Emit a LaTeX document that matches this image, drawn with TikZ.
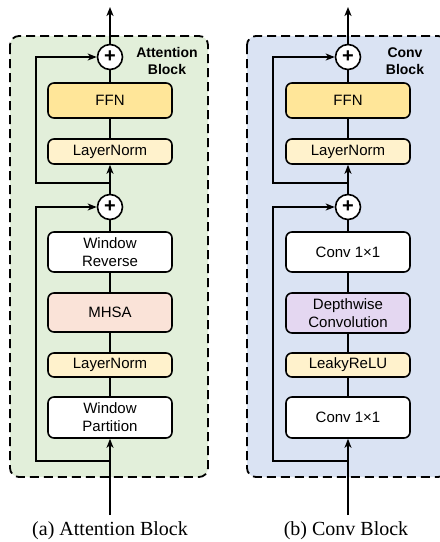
\documentclass[tikz,border=0pt]{standalone}
\usepackage{fontspec}
\setmainfont{Liberation Serif}
\setsansfont{Liberation Sans}
\usetikzlibrary{arrows.meta}
\definecolor{bggreen}{HTML}{E2EFDA}
\definecolor{bgblue}{HTML}{DAE3F3}
\definecolor{ffnc}{HTML}{FFE699}
\definecolor{lnc}{HTML}{FFF2CC}
\definecolor{mhsac}{HTML}{FAE3D8}
\definecolor{dwc}{HTML}{E4D7F1}
\begin{document}
\begin{tikzpicture}[x=1pt,y=-1pt,
  box/.style={draw, line width=1.6pt, rounded corners=6pt, minimum width=124pt,
    font=\sffamily\fontsize{15}{18}\selectfont, align=center, inner sep=0pt},
  plusc/.style={draw, circle, fill=white, line width=1.6pt, minimum size=25pt, inner sep=0pt,
    font=\sffamily\bfseries\fontsize{20}{20}\selectfont},
  conn/.style={line width=1.6pt},
  arr/.style={line width=1.6pt, -{Stealth[length=9pt,width=7pt,inset=2.5pt]}},
  panel/.style={dashed, dash pattern=on 9pt off 5pt, line width=1.8pt, rounded corners=9pt},
  ttl/.style={font=\sffamily\bfseries\fontsize{14}{17}\selectfont, align=center},
  captxt/.style={font=\rmfamily\fontsize{20}{24}\selectfont}
]
\clip (0,0) rectangle (440,542);
% panels
\fill[bggreen, rounded corners=9pt] (10,36) rectangle (208,477);
\draw[panel] (10,36) rectangle (208,477);
\fill[bgblue, rounded corners=9pt] (247,36) rectangle (447,477);
\draw[panel] (247,36) rectangle (447,477);

% ---------- (a) Attention block ----------
\node[box, fill=ffnc, minimum height=35pt] (ffnA) at (110,100.5) {FFN};
\node[box, fill=lnc, minimum height=25pt] (lnA1) at (110,151.5) {LayerNorm};
\node[box, fill=white, minimum height=40pt] (wr) at (110,252) {Window\\Reverse};
\node[box, fill=mhsac, minimum height=39pt] (mhsa) at (110,312.5) {MHSA};
\node[box, fill=lnc, minimum height=24pt] (lnA2) at (110,365) {LayerNorm};
\node[box, fill=white, minimum height=41pt] (wp) at (110,417.5) {Window\\Partition};
\node[plusc] (pA1) at (110,57) {+};
\node[plusc] (pA2) at (110,207) {+};
\node[ttl] (tA) at (167,61) {Attention\\Block};
\coordinate (inA) at (110,515);
\coordinate (outA) at (110,7);
\coordinate (jA1) at (110,461);
\coordinate (sA1b) at (36,461);
\coordinate (sA1t) at (36,207);
\coordinate (jA2) at (110,183);
\coordinate (sA2b) at (36,183);
\coordinate (sA2t) at (36,57);

\draw[arr] (inA) -- (wp);
\draw[conn] (wp) -- (lnA2);
\draw[conn] (lnA2) -- (mhsa);
\draw[conn] (mhsa) -- (wr);
\draw[conn] (wr) -- (pA2);
\draw[arr] (jA1) -- (sA1b) -- (sA1t) -- (pA2);
\draw[arr] (pA2) -- (lnA1);
\draw[arr] (jA2) -- (sA2b) -- (sA2t) -- (pA1);
\draw[conn] (lnA1) -- (ffnA);
\draw[conn] (ffnA) -- (pA1);
\draw[arr] (pA1) -- (outA);
\node[captxt] (capA) at (110,531) {(a) Attention Block};

% ---------- (b) Conv block ----------
\node[box, fill=ffnc, minimum height=35pt] (ffnB) at (348,100.5) {FFN};
\node[box, fill=lnc, minimum height=25pt] (lnB) at (348,151.5) {LayerNorm};
\node[box, fill=white, minimum height=40pt] (cv2) at (348,252) {Conv 1×1};
\node[box, fill=dwc, minimum height=40pt] (dw) at (348,313) {Depthwise\\Convolution};
\node[box, fill=lnc, minimum height=24pt] (lrelu) at (348,365) {LeakyReLU};
\node[box, fill=white, minimum height=41pt] (cv1) at (348,417.5) {Conv 1×1};
\node[plusc] (pB1) at (348,57) {+};
\node[plusc] (pB2) at (348,207) {+};
\node[ttl] (tB) at (405,61) {Conv\\Block};
\coordinate (inB) at (348,515);
\coordinate (outB) at (348,7);
\coordinate (jB1) at (348,461);
\coordinate (sB1b) at (273,461);
\coordinate (sB1t) at (273,207);
\coordinate (jB2) at (348,183);
\coordinate (sB2b) at (273,183);
\coordinate (sB2t) at (273,57);

\draw[arr] (inB) -- (cv1);
\draw[conn] (cv1) -- (lrelu);
\draw[conn] (lrelu) -- (dw);
\draw[conn] (dw) -- (cv2);
\draw[conn] (cv2) -- (pB2);
\draw[arr] (jB1) -- (sB1b) -- (sB1t) -- (pB2);
\draw[arr] (pB2) -- (lnB);
\draw[arr] (jB2) -- (sB2b) -- (sB2t) -- (pB1);
\draw[conn] (lnB) -- (ffnB);
\draw[conn] (ffnB) -- (pB1);
\draw[arr] (pB1) -- (outB);
\node[captxt] (capB) at (346,531) {(b) Conv Block};
\end{tikzpicture}
\end{document}
